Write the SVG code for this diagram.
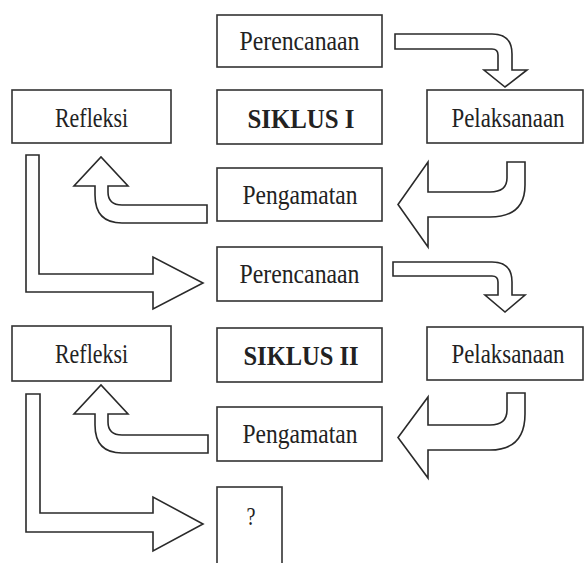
<svg xmlns="http://www.w3.org/2000/svg" width="586" height="563" viewBox="0 0 586 563">
<style>
.box{fill:#fff;stroke:#333;stroke-width:1.6}
.lbl{font-family:"Liberation Serif","Times New Roman",serif;font-size:27px;fill:#222;text-anchor:middle}
.bold{font-weight:bold}
.arr{fill:#fff;stroke:#2a2a2a;stroke-width:1.6;stroke-linejoin:miter}
</style>
<rect width="586" height="563" fill="#fff"/>
<g id="connectors">
  <path class="arr" d="M395,34 H492 Q512,34 512,54 V70 H527 L505,87 L484,70 H498 V55 Q498,49 492,49 H395 Z"/>
  <path class="arr" d="M507,162 H525 V185 Q525,217 490,217 H428 V247 L398,204.5 L428,162 V192 H490 Q507,192 507,178 Z"/>
  <path class="arr" d="M207,205 H122 Q108,205 108,192 V186 H128 L101,157 L74,186 H95 V195 Q95,223 122,223 H207 Z"/>
  <path class="arr" d="M26,155 H39 V274 H153 V257 L203,283 L153,309 V292 H26 Z"/>
  <path class="arr" d="M393,262 H492 Q512,262 512,282 V295 H525 L505,312 L485,295 H498 V282 Q498,276 492,276 H393 Z"/>
  <path class="arr" d="M507,393 H525 V414 Q525,450 490,450 H428 V478 L398,437.5 L428,397 V425 H490 Q507,425 507,410 Z"/>
  <path class="arr" d="M208,435 H122 Q108,435 108,422 V414 H128 L101,385 L74,414 H95 V425 Q95,453 122,453 H208 Z"/>
  <path class="arr" d="M26,394 H40 V513 H153 V497 L203,524 L153,551 V532 H26 Z"/>
</g>
<g id="perencanaan1"><rect class="box" x="217" y="15" width="165" height="52"/><text class="lbl" x="299.5" y="50" textLength="120" lengthAdjust="spacingAndGlyphs">Perencanaan</text></g>
<g id="siklus1"><rect class="box" x="217" y="90" width="165" height="54"/><text class="lbl bold" x="301" y="128" textLength="107" lengthAdjust="spacingAndGlyphs">SIKLUS I</text></g>
<g id="pelaksanaan1"><rect class="box" x="427" y="90" width="156" height="53"/><text class="lbl" x="508" y="127" textLength="113" lengthAdjust="spacingAndGlyphs">Pelaksanaan</text></g>
<g id="refleksi1"><rect class="box" x="12" y="90" width="159" height="53"/><text class="lbl" x="91.5" y="127" textLength="73" lengthAdjust="spacingAndGlyphs">Refleksi</text></g>
<g id="pengamatan1"><rect class="box" x="217" y="168" width="165" height="53"/><text class="lbl" x="300" y="204" textLength="115" lengthAdjust="spacingAndGlyphs">Pengamatan</text></g>
<g id="perencanaan2"><rect class="box" x="217" y="247" width="165" height="54"/><text class="lbl" x="299.5" y="283" textLength="120" lengthAdjust="spacingAndGlyphs">Perencanaan</text></g>
<g id="siklus2"><rect class="box" x="217" y="328" width="165" height="54"/><text class="lbl bold" x="301" y="365" textLength="115" lengthAdjust="spacingAndGlyphs">SIKLUS II</text></g>
<g id="pelaksanaan2"><rect class="box" x="427" y="327" width="156" height="53"/><text class="lbl" x="508" y="363" textLength="113" lengthAdjust="spacingAndGlyphs">Pelaksanaan</text></g>
<g id="refleksi2"><rect class="box" x="12" y="326" width="159" height="55"/><text class="lbl" x="91.5" y="363" textLength="73" lengthAdjust="spacingAndGlyphs">Refleksi</text></g>
<g id="pengamatan2"><rect class="box" x="217" y="407" width="165" height="54"/><text class="lbl" x="300" y="443" textLength="115" lengthAdjust="spacingAndGlyphs">Pengamatan</text></g>
<g id="next"><rect class="box" x="217" y="487" width="65" height="90"/><text class="lbl" x="251" y="525" style="font-size:26px" textLength="9" lengthAdjust="spacingAndGlyphs">?</text></g>
</svg>
